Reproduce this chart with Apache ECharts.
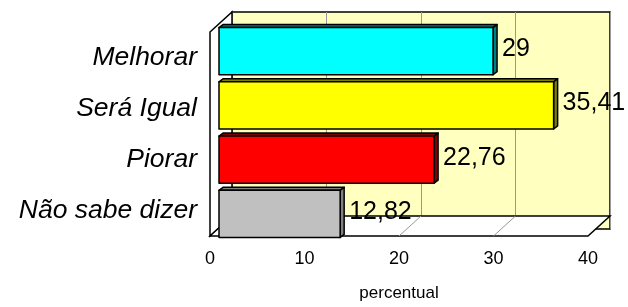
<!DOCTYPE html>
<html>
<head>
<meta charset="utf-8">
<script src="https://cdn.jsdelivr.net/npm/echarts@6/dist/echarts.min.js"></script>
<style>
  html, body { margin: 0; padding: 0; background: #fff; }
  #chart { width: 628px; height: 307px; }
</style>
</head>
<body>
<div id="chart"></div>
<script>
const categories = ['Melhorar', 'Será Igual', 'Piorar', 'Não sabe dizer']
const values = [29, 35.41, 22.76, 12.82]
const barColors = ['#00FFFF', '#FFFF00', '#FF0000', '#C0C0C0']
const sideColors = ['#008080', '#808000', '#800000', '#808080']
const xTicks = [0, 10, 20, 30, 40]

// front plane of the 3d box and its depth offsets
const front = { left: 210, top: 32, width: 378, height: 217 }
const depth = { dx: 22, dy: 20 }
const barShift = { dx: 9, dy: 8 }
const FONT = 'Liberation Sans, Arial, sans-serif'

const xMin = xTicks[0], xMax = xTicks[xTicks.length - 1], xStep = xTicks[1] - xTicks[0]

const fmt = v => String(v).replace('.', ',')

const myChart = echarts.init(document.getElementById('chart'))

const makeGrid = (dx, dy, extra) => Object.assign({
    left: front.left + dx,
    top: front.top - dy,
    width: front.width,
    height: front.height
}, extra || {})

const option = {
    animation: false,
    grid: [
        // back wall
        makeGrid(depth.dx, depth.dy, {
            show: true,
            backgroundColor: '#FFFFC0',
            borderColor: '#000',
            borderWidth: 1.5
        }),
        // bars plane
        makeGrid(barShift.dx, barShift.dy),
        // front plane (labels)
        makeGrid(0, 0)
    ],
    xAxis: [
        {
            gridIndex: 0, type: 'value', min: xMin, max: xMax, interval: xStep,
            axisLine: { show: false }, axisTick: { show: false }, axisLabel: { show: false },
            splitLine: { show: true, lineStyle: { color: '#999', width: 1 } }
        },
        {
            gridIndex: 1, type: 'value', min: xMin, max: xMax, interval: xStep,
            show: false, splitLine: { show: false }
        },
        {
            gridIndex: 2, type: 'value', min: xMin, max: xMax, interval: xStep,
            axisLine: { show: false }, axisTick: { show: false },
            splitLine: { show: false },
            axisLabel: { color: '#000', fontSize: 18, fontFamily: FONT, margin: 14 },
            name: 'percentual',
            nameLocation: 'middle',
            nameGap: 49,
            nameTextStyle: { color: '#000', fontSize: 17, fontFamily: FONT }
        }
    ],
    yAxis: [
        { gridIndex: 0, type: 'category', data: categories, inverse: true, show: false },
        { gridIndex: 1, type: 'category', data: categories, inverse: true, show: false },
        {
            gridIndex: 2, type: 'category', data: categories, inverse: true,
            axisLine: { show: false }, axisTick: { show: false },
            axisLabel: {
                color: '#000', fontSize: 26.5, fontStyle: 'italic', fontFamily: FONT, margin: 13,
                padding: [8, 0, 0, 0]
            }
        }
    ],
    series: [
        {
            // left wall and floor of the box
            type: 'custom',
            xAxisIndex: 2,
            yAxisIndex: 2,
            z: 1,
            silent: true,
            data: [[0, 0]],
            renderItem: function (params, api) {
                const cs = params.coordSys
                const x0 = cs.x, x1 = cs.x + cs.width
                const y0 = cs.y, y1 = cs.y + cs.height
                const dx = depth.dx, dy = depth.dy
                const stroke = { fill: '#fff', stroke: '#000', lineWidth: 1.5 }
                const children = [
                    {
                        type: 'polygon',
                        shape: { points: [[x0, y0], [x0 + dx, y0 - dy], [x0 + dx, y1 - dy], [x0, y1]] },
                        style: stroke
                    },
                    {
                        type: 'polygon',
                        shape: { points: [[x0, y1], [x0 + dx, y1 - dy], [x1 + dx, y1 - dy], [x1, y1]] },
                        style: stroke
                    }
                ]
                xTicks.slice(1, -1).forEach(t => {
                    const x = api.coord([t, 0])[0]
                    children.push({
                        type: 'line',
                        shape: { x1: x, y1: y1, x2: x + dx, y2: y1 - dy },
                        style: { stroke: '#999', lineWidth: 1 }
                    })
                })
                return { type: 'group', children }
            }
        },
        {
            // 3d bars
            type: 'custom',
            xAxisIndex: 1,
            yAxisIndex: 1,
            z: 3,
            data: values.map((v, i) => [v, i]),
            renderItem: function (params, api) {
                const i = api.value(1)
                const end = api.coord([api.value(0), i])
                const start = api.coord([0, i])
                const band = api.size([0, 1])[1]
                const h = band * 0.87
                const xa = start[0], xb = end[0]
                const ya = end[1] - h / 2, yb = end[1] + h / 2
                const d = 4
                const line = { stroke: '#000', lineWidth: 1.5, lineJoin: 'round' }
                return {
                    type: 'group',
                    children: [
                        {
                            type: 'polygon',
                            shape: { points: [[xa, ya], [xb, ya], [xb + d, ya - d + 1], [xa + d, ya - d + 1]] },
                            style: Object.assign({ fill: sideColors[i] }, line)
                        },
                        {
                            type: 'polygon',
                            shape: { points: [[xb, ya], [xb + d, ya - d + 1], [xb + d, yb - d + 1], [xb, yb]] },
                            style: Object.assign({ fill: sideColors[i] }, line)
                        },
                        {
                            type: 'rect',
                            shape: { x: xa, y: ya, width: xb - xa, height: yb - ya },
                            style: Object.assign({ fill: barColors[i] }, line)
                        },
                        {
                            type: 'text',
                            style: {
                                text: fmt(values[i]),
                                x: xb + d + 5,
                                y: end[1] - 2,
                                fill: '#000',
                                font: '25px ' + FONT,
                                align: 'left',
                                verticalAlign: 'middle'
                            }
                        }
                    ]
                }
            }
        }
    ]
}

myChart.setOption(option)
</script>
</body>
</html>
